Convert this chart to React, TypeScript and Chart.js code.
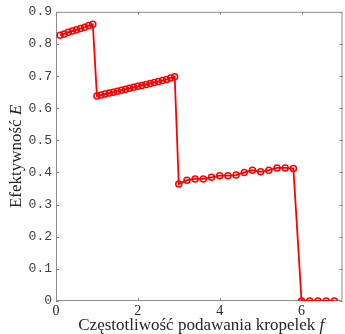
import React, { useEffect, useRef } from "react";
import { Chart, registerables } from "chart.js";

Chart.register(...registerables);

const freq = [
  0.1, 0.2, 0.3, 0.4, 0.5, 0.6, 0.7, 0.8, 0.9,
  1.0, 1.1, 1.2, 1.3, 1.4, 1.5, 1.6, 1.7, 1.8, 1.9,
  2.0, 2.1, 2.2, 2.3, 2.4, 2.5, 2.6, 2.7, 2.8, 2.9,
  3.0, 3.2, 3.4, 3.6, 3.8, 4.0, 4.2, 4.4, 4.6, 4.8, 5.0, 5.2, 5.4, 5.6, 5.8,
  6.0, 6.2, 6.4, 6.6, 6.8,
];

const efficiency = [
  0.827, 0.831, 0.836, 0.840, 0.844, 0.848, 0.852, 0.857, 0.861,
  0.638, 0.641, 0.644, 0.647, 0.650, 0.653, 0.656, 0.659, 0.662, 0.665,
  0.668, 0.671, 0.674, 0.677, 0.680, 0.683, 0.686, 0.689, 0.694, 0.698,
  0.364, 0.376, 0.380, 0.380, 0.385, 0.390, 0.390, 0.392, 0.400, 0.407, 0.402, 0.407, 0.414, 0.414, 0.412,
  0, 0, 0, 0, 0,
];

const xTicks = [0, 2, 4, 6];
const yTicks = [0, 0.1, 0.2, 0.3, 0.4, 0.5, 0.6, 0.7, 0.8, 0.9];
const xTitle = "Częstotliwość podawania kropelek ";
const xTitleVar = "f";
const yTitle = "Efektywność ";
const yTitleVar = "E";

const SERIF = "'Liberation Serif', 'DejaVu Serif', serif";
const MONO = "'Liberation Mono', 'DejaVu Sans Mono', monospace";

const boxPlugin = {
  id: "boxPlugin",
  beforeDatasetsDraw(chart: any) {
    const ctx = chart.ctx;
    const { left, right, top, bottom } = chart.chartArea;
    const xs = chart.scales.x;
    const ys = chart.scales.y;
    ctx.save();
    ctx.strokeStyle = "#8c8c8c";
    ctx.lineWidth = 1;
    ctx.beginPath();
    ctx.rect(left + 0.5, top + 0.5, right - left - 1, bottom - top - 1);
    ctx.stroke();
    ctx.beginPath();
    const tl = 3;
    xTicks.forEach((v) => {
      const px = Math.round(xs.getPixelForValue(v)) + 0.5;
      ctx.moveTo(px, bottom);
      ctx.lineTo(px, bottom - tl);
      ctx.moveTo(px, top);
      ctx.lineTo(px, top + tl);
    });
    yTicks.forEach((v) => {
      const py = Math.round(ys.getPixelForValue(v)) + 0.5;
      ctx.moveTo(left, py);
      ctx.lineTo(left + tl, py);
      ctx.moveTo(right, py);
      ctx.lineTo(right - tl, py);
    });
    ctx.stroke();
    ctx.restore();
  },
  afterDraw(chart: any) {
    const ctx = chart.ctx;
    const { left, right, top, bottom } = chart.chartArea;
    ctx.save();
    ctx.fillStyle = "#262626";
    ctx.textBaseline = "alphabetic";
    ctx.textAlign = "left";
    const fN = "17px " + SERIF;
    const fI = "italic 17px " + SERIF;
    // x title
    ctx.font = fN;
    const w1 = ctx.measureText(xTitle).width;
    ctx.font = fI;
    const w2 = ctx.measureText(xTitleVar).width;
    const cx = (left + right) / 2 + 2;
    const sx = cx - (w1 + w2) / 2;
    const by = 330;
    ctx.font = fN;
    ctx.fillText(xTitle, sx, by);
    ctx.font = fI;
    ctx.fillText(xTitleVar, sx + w1, by);
    // y title
    ctx.font = fN;
    const v1 = ctx.measureText(yTitle).width;
    ctx.font = fI;
    const v2 = ctx.measureText(yTitleVar).width;
    const cy = (top + bottom) / 2;
    ctx.translate(21, cy);
    ctx.rotate(-Math.PI / 2);
    const s = -(v1 + v2) / 2;
    ctx.font = fN;
    ctx.fillText(yTitle, s, 0);
    ctx.font = fI;
    ctx.fillText(yTitleVar, s + v1, 0);
    ctx.restore();
  },
};

export default function App() {
  const ref = useRef<HTMLCanvasElement>(null);
  useEffect(() => {
    if (!ref.current) return;
    const chart = new Chart(ref.current, {
      type: "line",
      data: {
        datasets: [
          {
            data: freq.map((x, i) => ({ x, y: efficiency[i] })),
            borderColor: "#ff0000",
            borderWidth: 1.8,
            pointRadius: 3,
            pointBorderWidth: 1.5,
            pointBorderColor: "#ff0000",
            pointBackgroundColor: "rgba(255,255,255,0)",
            tension: 0,
          },
        ],
      },
      options: {
        responsive: false,
        animation: false,
        devicePixelRatio: 1,
        layout: { padding: { top: 10, right: 2, left: 0, bottom: 0 } },
        plugins: { legend: { display: false }, tooltip: { enabled: false } },
        scales: {
          x: {
            type: "linear",
            min: 0,
            max: 7,
            afterBuildTicks: (s: any) => {
              s.ticks = xTicks.map((v) => ({ value: v }));
            },
            afterFit: (s: any) => {
              s.height = 33;
            },
            grid: { display: false, drawTicks: false },
            border: { display: false },
            ticks: {
              padding: 2,
              maxRotation: 0,
              autoSkip: false,
              color: "#262626",
              font: { family: SERIF, size: 14 },
            },
          },
          y: {
            type: "linear",
            min: 0,
            max: 0.9,
            afterBuildTicks: (s: any) => {
              s.ticks = yTicks.map((v) => ({ value: v }));
            },
            afterFit: (s: any) => {
              s.width = 56;
            },
            grid: { display: false, drawTicks: false },
            border: { display: false },
            ticks: {
              padding: 4,
              autoSkip: false,
              color: "#404040",
              font: { family: MONO, size: 13 },
              callback: (v: any) => (v === 0 ? "0" : Number(v).toFixed(1)),
            },
          },
        },
      },
      plugins: [boxPlugin],
    });
    return () => chart.destroy();
  }, []);
  return (
    <div style={{ position: "fixed", left: 0, top: 0, width: 348, height: 334, background: "#fff" }}>
      <canvas ref={ref} width={348} height={334} style={{ display: "block" }} />
    </div>
  );
}
